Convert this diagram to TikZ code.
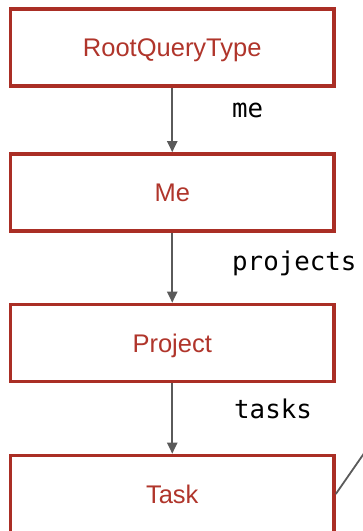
\documentclass[tikz,border=0pt]{standalone}
\usepackage{fontspec}
\setmainfont{Liberation Sans}
\newfontfamily\labmono{DejaVu Sans Mono}
\usetikzlibrary{arrows.meta}
\definecolor{boxred}{HTML}{AA2E25}
\definecolor{txtred}{HTML}{B0352B}
\definecolor{arrgrey}{HTML}{5A5A5A}
\tikzset{
  typebox/.style={draw=boxred, line width=3.6pt, fill=white, minimum width=323.5pt, minimum height=77pt, inner sep=0pt, text height=18.3pt, text depth=0pt, text=txtred, font=\fontsize{25.5pt}{28pt}\selectfont},
  fieldlabel/.style={anchor=base west, inner sep=0pt, text=black, font=\labmono\fontsize{25.8pt}{28pt}\selectfont},
  edge/.style={draw=arrgrey, line width=2pt, -{Triangle[length=11pt,width=10pt]}},
  plainedge/.style={draw=arrgrey, line width=1.8pt}
}
\begin{document}
\begin{tikzpicture}[x=1pt,y=-1pt]
\useasboundingbox (0,0) rectangle (363,531);
\clip (0,0) rectangle (363,531);
\node[typebox] (r) at (172.25,47.5) {RootQueryType};
\node[typebox] (me) at (172.25,192.5) {Me};
\node[typebox] (proj) at (172.25,343) {Project};
\node[typebox] (task) at (172.25,494) {Task};
\draw[edge] (r.south) -- (me.north);
\draw[edge] (me.south) -- (proj.north);
\draw[edge] (proj.south) -- (task.north);
\node[fieldlabel] (lme) at (232,117) {me};
\node[fieldlabel] (lproj) at (232,270) {projects};
\node[fieldlabel] (ltask) at (234,418) {tasks};
\coordinate (out) at (392,413);
\draw[plainedge] (task.east) -- (out);
\end{tikzpicture}
\end{document}
